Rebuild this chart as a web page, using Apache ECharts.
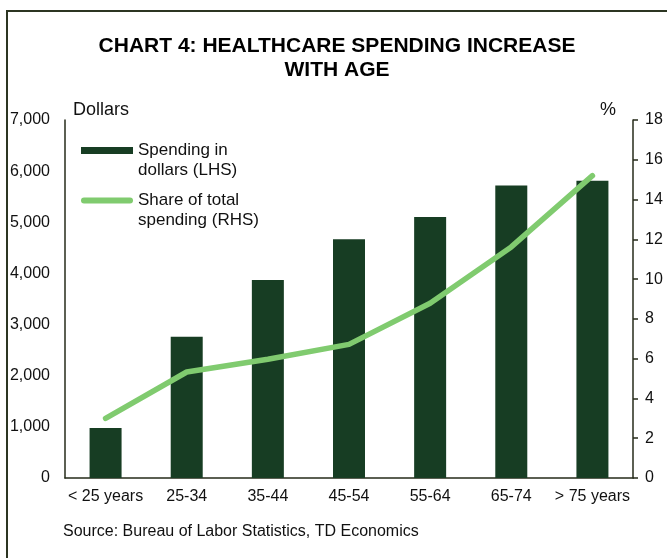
<!DOCTYPE html>
<html>
<head>
<meta charset="utf-8">
<script src="https://cdn.jsdelivr.net/npm/echarts@6/dist/echarts.min.js"></script>
<style>
  html, body { margin: 0; padding: 0; background: #fff; }
  #chart { width: 667px; height: 558px; }
</style>
</head>
<body>
<div id="chart"></div>
<script>
// Age groups and the two measures plotted against them
const ageGroups = ['< 25 years', '25-34', '35-44', '45-54', '55-64', '65-74', '> 75 years'];
const spendingDollars = [980, 2760, 3870, 4670, 5105, 5720, 5810];   // left axis, dollars
const shareOfTotal = [3.0, 5.33, 5.97, 6.72, 8.79, 11.62, 15.2];     // right axis, percent
const dollarTicks = { min: 0, max: 7000, step: 1000 };
const percentTicks = { min: 0, max: 18, step: 2 };

const FONT = '"Liberation Sans", Arial, sans-serif';
const TEXT = '#111';
const AXIS = '#262b1a';
const BAR = '#173d23';
const LINE = '#80cb6f';

const chart = echarts.init(document.getElementById('chart'), null, { renderer: 'canvas' });

chart.setOption({
  animation: false,
  backgroundColor: '#fff',
  textStyle: { fontFamily: FONT, color: TEXT },
  legend: {
    orient: 'vertical',
    left: 81,
    top: 120.5,
    padding: 0,
    itemGap: -10,
    itemWidth: 52,
    itemHeight: 7,
    selectedMode: false,
    // leading blank line puts the first text line level with the key
    formatter: name => '\n' + name,
    textStyle: { fontFamily: FONT, fontSize: 17, color: TEXT, lineHeight: 20 },
    itemStyle: { borderWidth: 0 },
    data: [
      { name: 'Spending in\ndollars (LHS)', icon: 'rect' },
      { name: 'Share of total\nspending (RHS)', icon: 'path://M3,0 L49,0 A3,3 0 0 1 49,6 L3,6 A3,3 0 0 1 3,0 Z' }
    ]
  },
  grid: { left: 65, right: 34, top: 120, bottom: 80, containLabel: false },
  xAxis: {
    type: 'category',
    data: ageGroups,
    axisLine: { lineStyle: { color: AXIS, width: 1.5 } },
    axisTick: { show: false },
    axisLabel: { fontFamily: FONT, fontSize: 16, color: TEXT, margin: 11, interval: 0 }
  },
  yAxis: [
    {
      type: 'value',
      position: 'left',
      min: dollarTicks.min,
      max: dollarTicks.max,
      interval: dollarTicks.step,
      name: 'Dollars',
      nameLocation: 'end',
      nameGap: 10,
      nameTextStyle: { fontFamily: FONT, fontSize: 18, color: TEXT, align: 'left', verticalAlign: 'middle', padding: [0, 0, 0, 8] },
      axisLine: { show: true, lineStyle: { color: AXIS, width: 1.5 } },
      axisTick: { show: false },
      splitLine: { show: false },
      axisLabel: {
        fontFamily: FONT, fontSize: 16, color: TEXT, margin: 15,
        formatter: v => v.toLocaleString('en-US')
      }
    },
    {
      type: 'value',
      position: 'right',
      min: percentTicks.min,
      max: percentTicks.max,
      interval: percentTicks.step,
      name: '%',
      nameLocation: 'end',
      nameGap: 10,
      nameTextStyle: { fontFamily: FONT, fontSize: 18, color: TEXT, align: 'right', verticalAlign: 'middle', padding: [0, 17, 0, 0] },
      axisLine: { show: true, lineStyle: { color: AXIS, width: 1.5 } },
      axisTick: { show: true, inside: false, length: 5, lineStyle: { color: AXIS, width: 1.5 } },
      splitLine: { show: false },
      axisLabel: { fontFamily: FONT, fontSize: 16, color: TEXT, margin: 12 }
    }
  ],
  series: [
    {
      name: 'Spending in\ndollars (LHS)',
      type: 'bar',
      yAxisIndex: 0,
      data: spendingDollars,
      barWidth: 32,
      itemStyle: { color: BAR },
      z: 2
    },
    {
      name: 'Share of total\nspending (RHS)',
      type: 'line',
      yAxisIndex: 1,
      data: shareOfTotal,
      symbol: 'none',
      itemStyle: { color: LINE },
      lineStyle: { color: LINE, width: 5.5, cap: 'round', join: 'round' },
      z: 3
    }
  ],
  graphic: [
    {
      type: 'text',
      x: 337,
      y: 34,
      style: {
        text: 'CHART 4: HEALTHCARE SPENDING INCREASE\nWITH AGE',
        align: 'center',
        verticalAlign: 'top',
        fontFamily: FONT, fontWeight: 'bold', fontSize: 21, lineHeight: 24, fill: '#000'
      }
    },
    {
      type: 'rect',
      shape: { x: 7, y: 11, width: 720, height: 620 },
      style: { fill: null, stroke: '#2c3522', lineWidth: 2 },
      silent: true,
      z: 100
    },
    {
      type: 'text',
      left: 63,
      top: 524,
      style: { text: 'Source: Bureau of Labor Statistics, TD Economics', fontFamily: FONT, fontSize: 16, fill: TEXT }
    }
  ]
});
</script>
</body>
</html>
